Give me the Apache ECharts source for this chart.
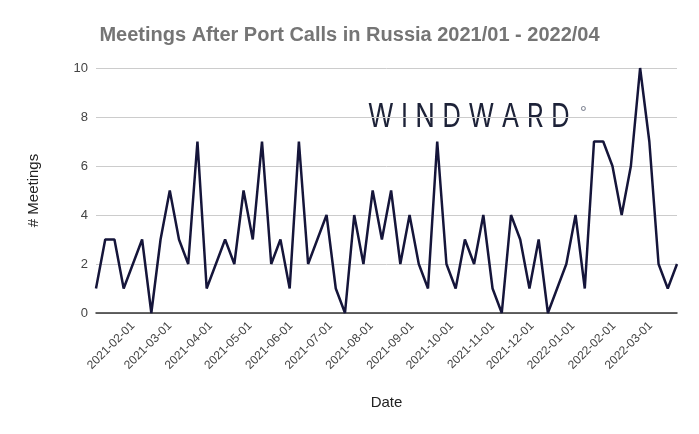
<!DOCTYPE html>
<html>
<head>
<meta charset="utf-8">
<script src="https://cdn.jsdelivr.net/npm/echarts@6/dist/echarts.min.js"></script>
<style>
html,body{margin:0;padding:0;background:#fff;}
#chart{width:699px;height:434px;}
</style>
</head>
<body>
<div id="chart"></div>
<script>
// Weekly series, first week starting 2021-01-04
var startDate = '2021-01-04';
var meetings = [1,3,3,1,2,3,0,3,5,3,2,7,1,2,3,2,5,3,7,2,3,1,7,2,3,4,1,0,4,2,5,3,5,2,4,2,1,7,2,1,3,2,4,1,0,4,3,1,3,0,1,2,4,1,7,7,6,4,6,10,7,2,1,2];
var tickLabels = ['2021-02-01','2021-03-01','2021-04-01','2021-05-01','2021-06-01','2021-07-01','2021-08-01','2021-09-01','2021-10-01','2021-11-01','2021-12-01','2022-01-01','2022-02-01','2022-03-01'];
var yTicks = [0,2,4,6,8,10];

function parseDay(s){var p=s.split('-');return new Date(+p[0],+p[1]-1,+p[2]).getTime();}
var t0 = parseDay(startDate);
var weekDates = meetings.map(function(_,i){var d=new Date(t0);d.setDate(d.getDate()+7*i);return d.getTime();});
var seriesData = meetings.map(function(v,i){return [weekDates[i], v];});
var tickTimes = tickLabels.map(parseDay);

function fmt(t){var d=new Date(t);var m=d.getMonth()+1,dd=d.getDate();return d.getFullYear()+'-'+(m<10?'0':'')+m+'-'+(dd<10?'0':'')+dd;}

var chart = echarts.init(document.getElementById('chart'));
chart.setOption({
  animation:false,
  title:{
    text:'Meetings After Port Calls in Russia 2021/01 - 2022/04',
    left:'center', top:20,
    textStyle:{fontFamily:'Liberation Sans, Arial, sans-serif',fontSize:20,fontWeight:'bold',color:'#757575'}
  },
  graphic:[{
    type:'text', x:368, y:101, scaleX:0.79,
    style:{text:'W I N D W A R D', font:'400 33px Inter, sans-serif', fill:'#1d2238'}
  },{
    type:'text', x:580, y:105,
    style:{text:'°', font:'15px Inter, sans-serif', fill:'#8a8f9c'}
  }],
  grid:{left:96,right:22,top:68,bottom:121},
  xAxis:{
    type:'value',
    min:weekDates[0], max:weekDates[weekDates.length-1],
    name:'Date', nameLocation:'middle', nameGap:82,
    nameTextStyle:{fontFamily:'Liberation Sans, Arial, sans-serif',fontSize:15,color:'#222'},
    axisLine:{show:true,lineStyle:{color:'#333',width:1.5}},
    axisTick:{show:false},
    splitLine:{show:false},
    axisLabel:{
      customValues:tickTimes,
      rotate:45, margin:11,
      fontFamily:'Liberation Sans, Arial, sans-serif', fontSize:12, color:'#444',
      formatter:function(v){return fmt(v);}
    }
  },
  yAxis:{
    type:'value', min:0, max:10, interval:2,
    name:'# Meetings', nameLocation:'middle', nameGap:55,
    nameTextStyle:{fontFamily:'Liberation Sans, Arial, sans-serif',fontSize:15,color:'#222'},
    axisLine:{show:false}, axisTick:{show:false},
    splitLine:{lineStyle:{color:'#cccccc',width:1}},
    axisLabel:{
      margin:8, fontFamily:'Liberation Sans, Arial, sans-serif', fontSize:13, color:'#444'
    }
  },
  series:[{
    type:'line', data:seriesData, showSymbol:false, symbol:'none',
    lineStyle:{color:'#15153a',width:2.5}, z:3
  }]
});
</script>
</body>
</html>
